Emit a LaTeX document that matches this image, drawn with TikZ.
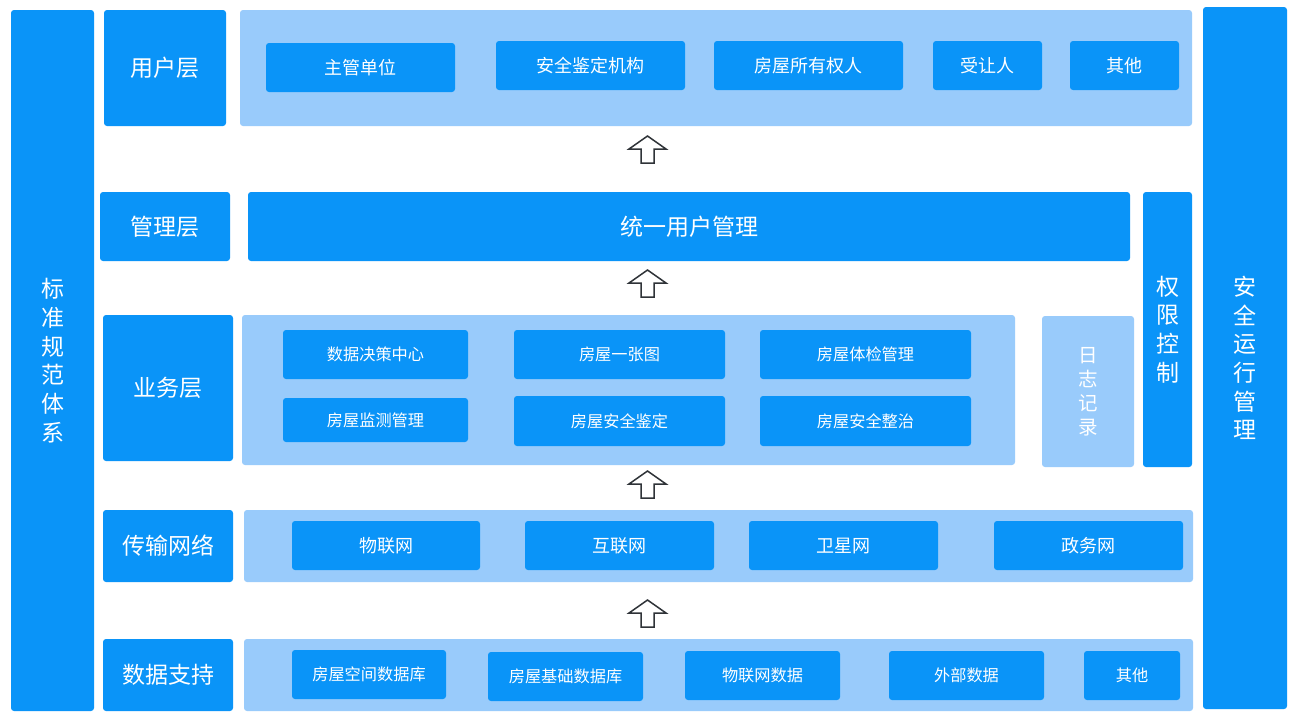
\documentclass[tikz,border=0pt]{standalone}
\usepackage{fontspec}
\setmainfont{Noto Sans CJK SC}
\definecolor{dkblue}{HTML}{0A94F8}
\definecolor{ltblue}{HTML}{99CBFB}
\definecolor{arrowgray}{HTML}{2F3338}
\tikzset{
  base/.style={inner sep=0pt, outer sep=0pt, rounded corners=3pt, text=white, align=center},
  dk/.style={base, fill=dkblue},
  lt/.style={base, fill=ltblue},
  sz/.style 2 args={minimum width=#1pt, minimum height=#2pt},
  biglabel/.style={font=\fontsize{23}{28.7}\selectfont},
  itemA/.style={font=\fontsize{18}{20}\selectfont},
  itemB/.style={font=\fontsize{16.2}{18}\selectfont},
  blockup/.pic={
    \draw[arrowgray, line width=1.5pt, fill=white, line join=miter]
      (0,0) -- (18.5,13) -- (6.5,13) -- (6.5,27) -- (-6.5,27) -- (-6.5,13) -- (-18.5,13) -- cycle;
  }
}
\begin{document}
\begin{tikzpicture}[x=1pt,y=-1pt]
\useasboundingbox (0,0) rectangle (1295,721);
\fill[white] (0,0) rectangle (1295,721);

% side bars
\node[dk, sz={83}{701}, biglabel] (std) at (52.5,360.5) {标\\准\\规\\范\\体\\系};
\node[dk, sz={84}{702}, biglabel] (safe) at (1245,358) {安\\全\\运\\行\\管\\理};

% user layer
\node[dk, sz={122}{116}, biglabel] (userL) at (165,68) {用户层};
\node[lt, sz={952}{116}] (userbg) at (716,68) {};
\node[dk, sz={189}{49}, itemA] (u1) at (360.5,67.5) {主管单位};
\node[dk, sz={189}{49}, itemA] (u2) at (590.5,65.5) {安全鉴定机构};
\node[dk, sz={189}{49}, itemA] (u3) at (808.5,65.5) {房屋所有权人};
\node[dk, sz={109}{49}, itemA] (u4) at (987.5,65.5) {受让人};
\node[dk, sz={109}{49}, itemA] (u5) at (1124.5,65.5) {其他};

% management layer
\node[dk, sz={130}{69}, biglabel] (mgmtL) at (165,226.5) {管理层};
\node[dk, sz={882}{69}, biglabel] (mgmt) at (689,226.5) {统一用户管理};
\node[dk, sz={49}{275}, biglabel] (perm) at (1167.5,329.5) {权\\限\\控\\制};

% business layer
\node[dk, sz={130}{146}, biglabel] (bizL) at (168,388) {业务层};
\node[lt, sz={773}{150}] (bizbg) at (628.5,390) {};
\node[dk, sz={185}{49}, itemB] (b1) at (375.5,354.5) {数据决策中心};
\node[dk, sz={211}{49}, itemB] (b2) at (619.5,354.5) {房屋一张图};
\node[dk, sz={211}{49}, itemB] (b3) at (865.5,354.5) {房屋体检管理};
\node[dk, sz={185}{44}, itemB] (b4) at (375.5,420) {房屋监测管理};
\node[dk, sz={211}{50}, itemB] (b5) at (619.5,421) {房屋安全鉴定};
\node[dk, sz={211}{50}, itemB] (b6) at (865.5,421) {房屋安全整治};
\node[lt, sz={92}{151}, font=\fontsize{19.5}{24}\selectfont] (log) at (1088,391.5) {日\\志\\记\\录};

% transport layer
\node[dk, sz={130}{72}, biglabel] (netL) at (168,546) {传输网络};
\node[lt, sz={949}{72}] (netbg) at (718.5,546) {};
\node[dk, sz={188}{49}, itemA] (n1) at (386,545.5) {物联网};
\node[dk, sz={189}{49}, itemA] (n2) at (619.5,545.5) {互联网};
\node[dk, sz={189}{49}, itemA] (n3) at (843.5,545.5) {卫星网};
\node[dk, sz={189}{49}, itemA] (n4) at (1088.5,545.5) {政务网};

% data layer
\node[dk, sz={130}{72}, biglabel] (dataL) at (168,675) {数据支持};
\node[lt, sz={949}{72}] (databg) at (718.5,675) {};
\node[dk, sz={154}{49}, itemB] (d1) at (369,674.5) {房屋空间数据库};
\node[dk, sz={155}{49}, itemB] (d2) at (565.5,676.5) {房屋基础数据库};
\node[dk, sz={155}{49}, itemB] (d3) at (762.5,675.5) {物联网数据};
\node[dk, sz={155}{49}, itemB] (d4) at (966.5,675.5) {外部数据};
\node[dk, sz={96}{49}, itemB] (d5) at (1132,675.5) {其他};

% block arrows
\pic at (647.5,136) {blockup};
\pic at (647.5,270) {blockup};
\pic at (647.5,471) {blockup};
\pic at (647.5,600) {blockup};
\end{tikzpicture}
\end{document}
